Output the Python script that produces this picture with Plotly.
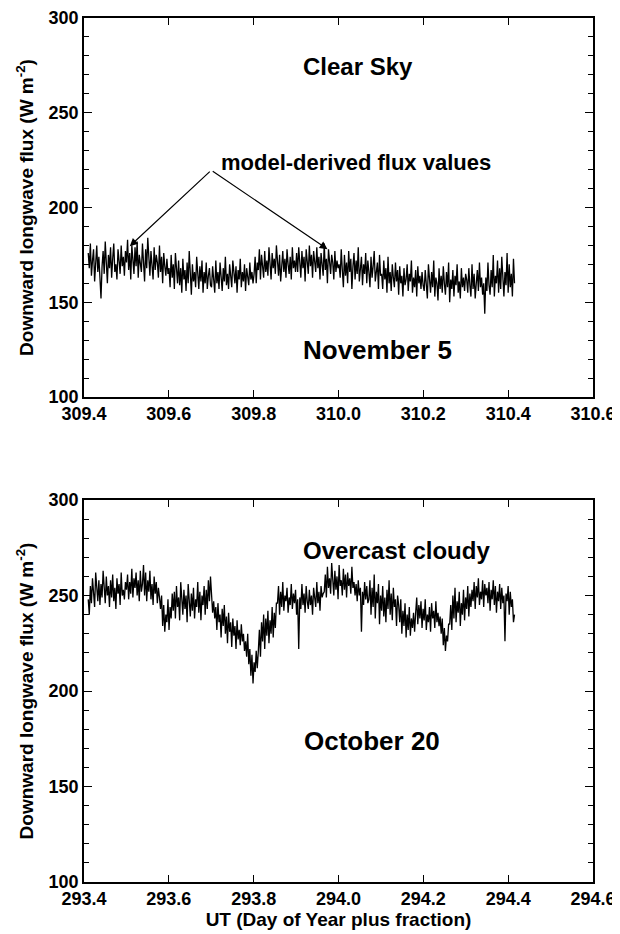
import numpy as np
import plotly.graph_objects as go

# ---- data ----
nov5_start, nov5_end = 309.41, 310.415
nov5_flux = [
    176,168,181,164,172,178,161,170,180,166,174,163,152,169,177,165,182,171,160,175,168,179,163,173,181,166,170,162,178,172,165,180,169,174,164,177,
    171,183,167,176,162,180,174,165,179,169,182,163,175,170,166,181,172,161,178,168,184,173,164,177,170,162,179,167,175,171,163,180,166,174,160,176,169,164,173,165,
    168,158,175,163,170,157,176,165,160,172,159,168,155,173,162,167,156,171,160,177,165,154,170,161,166,158,174,163,157,169,161,172,155,166,160,171,157,164,168,159,
    158,169,162,155,172,160,166,157,171,163,156,168,161,174,159,165,157,170,163,158,172,164,160,169,155,167,162,173,158,166,161,170,156,168,164,159,171,162,166,160,
    165,174,160,171,167,178,162,175,169,163,177,166,172,164,179,170,162,176,168,173,165,180,171,164,175,161,169,177,166,173,163,178,170,165,174,162,179,168,172,166,
    176,166,179,170,163,177,168,174,161,178,172,165,180,169,175,163,177,171,166,179,168,174,162,176,170,164,181,167,173,160,178,169,165,175,171,162,177,166,172,168,
    170,163,178,167,158,175,164,171,160,177,166,173,157,169,176,162,172,165,179,161,168,174,159,170,165,176,160,172,166,158,174,163,169,177,161,167,171,157,175,164,
    165,157,172,162,168,155,174,160,166,156,170,163,158,171,161,167,154,169,160,164,153,168,159,162,170,156,165,161,172,155,163,158,167,153,169,160,164,157,166,159,
    156,167,159,152,170,161,155,166,158,172,153,163,160,151,168,157,164,155,169,160,154,166,158,171,150,162,157,167,153,164,159,170,155,161,152,168,158,163,156,165,
    162,155,168,159,153,170,157,165,152,160,167,156,171,158,163,154,160,144,163,156,171,159,154,167,158,175,153,164,160,172,155,168,157,174,161,153,166,159,176,155,170,158,165,153,173,160,
]

oct20_start, oct20_end = 293.41, 294.415
oct20_flux = [
    248,240,255,246,259,250,244,262,251,247,258,245,256,249,263,252,246,260,250,255,244,258,249,261,247,254,243,259,251,256,245,262,250,253,248,257,
    253,261,248,257,251,264,249,259,254,262,250,258,247,263,252,256,266,250,262,247,258,252,263,248,256,245,260,251,257,246,254,249,
    243,250,234,245,231,240,236,248,232,244,238,251,
    242,252,238,255,244,249,237,257,246,240,253,243,250,236,256,245,239,251,242,254,238,248,244,257,241,252,237,250,245,255,240,253,243,258,247,260,
    250,241,247,238,244,232,246,236,240,228,243,234,245,230,239,225,241,231,236,223,238,229,234,222,237,227,232,224,235,226,230,221,
    226,218,230,214,222,208,219,204,215,210,221,212,
    221,232,218,236,226,240,222,238,229,242,225,237,230,244,228,241,233,246,
    246,255,240,252,244,257,242,250,247,254,241,249,245,256,243,251,246,253,240,248,222,249,243,256,245,251,241,255,247,243,253,245,250,240,254,248,244,257,246,252,242,255,249,251,
    252,261,249,265,254,259,251,267,256,250,263,253,260,248,266,255,258,250,264,253,261,249,262,255,259,251,265,254,257,250,
    256,247,258,250,254,231,252,245,257,248,255,246,
    248,258,240,254,244,261,238,252,246,256,235,250,242,255,239,249,236,253,243,258,240,251,237,254,244,248,234,250,
    245,236,248,230,242,234,246,228,240,232,244,229,238,233,241,231,
    241,249,235,245,238,247,233,243,237,248,232,240,236,244,231,246,238,242,233,247,236,241,234,239,
    230,238,224,233,221,229,226,235,
    235,245,232,250,238,254,236,247,241,252,234,246,240,253,237,249,243,255,239,251,
    244,253,247,257,243,255,249,259,245,252,248,258,244,256,250,254,246,257,242,253,248,258,245,255,241,252,247,256,243,254,246,250,226,251,247,255,240,252,244,248,236,240,
]

nov5_x = np.linspace(nov5_start, nov5_end, len(nov5_flux))
oct20_x = np.linspace(oct20_start, oct20_end, len(oct20_flux))

top_xticks = [309.4, 309.6, 309.8, 310.0, 310.2, 310.4, 310.6]
bot_xticks = [293.4, 293.6, 293.8, 294.0, 294.2, 294.4, 294.6]
y_ticks = [100, 150, 200, 250, 300]

FONT = "Liberation Sans, Arial, Helvetica, sans-serif"

fig = go.Figure()
fig.add_trace(go.Scatter(x=nov5_x, y=nov5_flux, mode="lines",
                         line=dict(color="black", width=1.3), xaxis="x", yaxis="y",
                         showlegend=False))
fig.add_trace(go.Scatter(x=oct20_x, y=oct20_flux, mode="lines",
                         line=dict(color="black", width=1.3), xaxis="x2", yaxis="y2",
                         showlegend=False))

tickfont = dict(family=FONT, size=18, color="black", weight="bold")
titlefont = dict(family=FONT, size=19, color="black", weight="bold")

def xax(ticks, domain_anchor, title=None):
    d = dict(range=[ticks[0], ticks[-1]], tickvals=ticks,
             ticktext=[f"{t:.1f}" for t in ticks],
             showgrid=False, zeroline=False, showline=True, linecolor="black",
             linewidth=1.6, mirror="ticks", ticks="inside", ticklen=7,
             tickwidth=1.2, tickcolor="black", tickfont=tickfont,
             ticklabeloverflow="allow",
             anchor=domain_anchor, automargin=False)
    if title:
        d["title"] = dict(text=title, font=titlefont, standoff=0)
    return d

def yax(domain, anchor):
    return dict(domain=domain, range=[100, 300], tickvals=y_ticks,
                showgrid=False, zeroline=False, showline=True, linecolor="black",
                linewidth=1.6, mirror="ticks", ticks="inside", ticklen=8,
                tickwidth=1.2, tickcolor="black", tickfont=tickfont,
                ticklabeloverflow="allow",
                minor=dict(dtick=10, ticks="inside", ticklen=5, tickwidth=1,
                           tickcolor="black", showgrid=False),
                title=dict(text="Downward longwave flux (W m<sup>-2</sup>)",
                           font=titlefont, standoff=10),
                anchor=anchor, automargin=False)

# the page adds an 8px body margin; the figure is sized so the plot lands where the reference has it
fig.update_layout(
    width=612, height=926,
    margin=dict(l=76, r=27, t=10, b=52, autoexpand=False),
    paper_bgcolor="white", plot_bgcolor="white",
    xaxis=xax(top_xticks, "y"),
    yaxis=yax([0.5613, 1.0], "x"),
    xaxis2=xax(bot_xticks, "y2", "UT (Day of Year plus fraction)"),
    yaxis2=yax([0.0, 0.4421], "x2"),
    font=dict(family=FONT, color="black"),
)

labfont = dict(family=FONT, size=24, color="black", weight="bold")
bigfont = dict(family=FONT, size=26, color="black", weight="bold")
fig.add_annotation(x=310.047, y=274.3, xref="x", yref="y", text="Clear Sky",
                   showarrow=False, font=labfont)
fig.add_annotation(x=310.092, y=124.6, xref="x", yref="y", text="November 5",
                   showarrow=False, font=bigfont)
fig.add_annotation(x=294.136, y=273.8, xref="x2", yref="y2", text="Overcast cloudy",
                   showarrow=False, font=labfont)
fig.add_annotation(x=294.078, y=173.8, xref="x2", yref="y2", text="October 20",
                   showarrow=False, font=bigfont)
fig.add_annotation(x=310.042, y=223.6, xref="x", yref="y", text="model-derived flux values",
                   showarrow=False, font=dict(family=FONT, size=22, color="black", weight="bold"))

# pointer lines from a common apex
apex = (309.700, 219.7)
for tip in [(309.508, 179.6), (309.974, 178.0)]:
    fig.add_annotation(x=tip[0], y=tip[1], ax=apex[0], ay=apex[1],
                       xref="x", yref="y", axref="x", ayref="y", text="",
                       showarrow=True, arrowhead=2, arrowsize=1.3, arrowwidth=1.2,
                       arrowcolor="black")

fig.write_html("out.html")
